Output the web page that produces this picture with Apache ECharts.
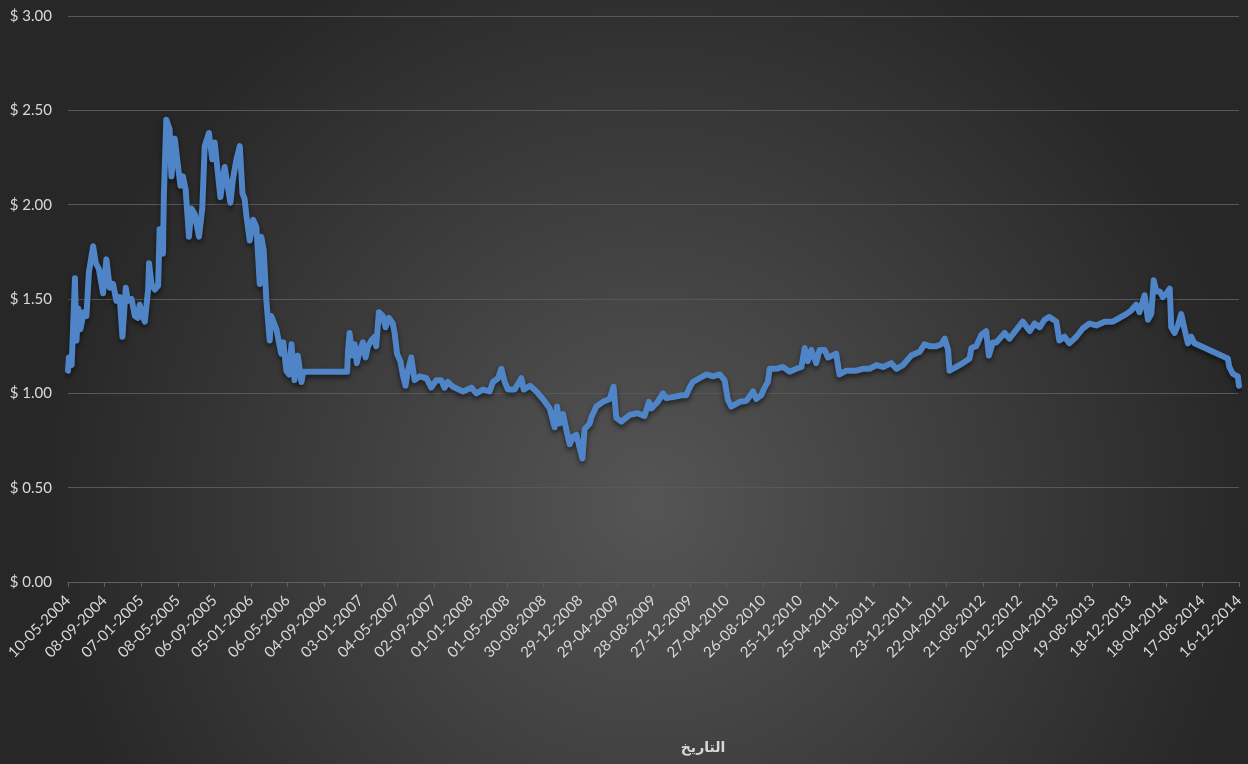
<!DOCTYPE html>
<html>
<head>
<meta charset="utf-8">
<script src="https://cdn.jsdelivr.net/npm/echarts@6/dist/echarts.min.js"></script>
<style>
  html, body { margin: 0; padding: 0; background: #2b2b2b; }
  #grafico { width: 1248px; height: 764px; }
</style>
</head>
<body>
<div id="grafico"></div>
<script>
// etiquetas del eje X (cada 121 días desde 10-05-2004)
const etiquetasFecha = ['10-05-2004','08-09-2004','07-01-2005','08-05-2005','06-09-2005','05-01-2006',
  '06-05-2006','04-09-2006','03-01-2007','04-05-2007','02-09-2007','01-01-2008','01-05-2008',
  '30-08-2008','29-12-2008','29-04-2009','28-08-2009','27-12-2009','27-04-2010','26-08-2010',
  '25-12-2010','25-04-2011','24-08-2011','23-12-2011','22-04-2012','21-08-2012','20-12-2012',
  '20-04-2013','19-08-2013','18-12-2013','18-04-2014','17-08-2014','16-12-2014'];
const PASO = 121;

// días desde 10-05-2004 y precio
const dias = [0,3,12,23,28,34,41,52,61,69,83,92,102,116,127,138,149,160,171,180,191,198,210,221,231,237,246,254,
  265,268,276,287,298,303,314,317,325,336,342,353,364,372,380,389,400,408,419,433,444,452,466,477,485,496,504,
  518,529,537,545,557,568,577,584,590,601,612,623,634,639,647,656,667,672,689,705,712,722,731,739,749,760,772,
  778,923,926,931,940,948,955,964,975,984,992,1003,1014,1019,1028,1041,1050,1061,1074,1080,1088,1099,1107,1116,
  1124,1135,1146,1163,1185,1201,1218,1234,1245,1256,1273,1306,1334,1350,1372,1394,1405,1422,1433,1444,1455,1477,
  1499,1507,1528,1549,1570,1593,1609,1617,1626,1637,1646,1659,1670,1681,1692,1701,1708,1725,1730,1747,1769,1791,
  1804,1813,1830,1857,1884,1906,1921,1929,1950,1967,1978,2000,2028,2044,2055,2066,2088,2111,2133,2155,2171,2182,
  2193,2221,2243,2265,2276,2292,2303,2314,2320,2342,2364,2386,2408,2425,2436,2446,2458,2474,2485,2502,2513,2540,
  2551,2574,2606,2628,2650,2673,2695,2722,2739,2761,2788,2816,2832,2849,2871,2888,2899,2910,2915,2937,2959,2981,
  2987,3003,3020,3036,3045,3058,3069,3097,3113,3135,3157,3180,3196,3213,3229,3245,3268,3278,3295,3311,3334,3356,
  3378,3400,3428,3455,3477,3499,3516,3532,3543,3560,3571,3582,3590,3599,3610,3620,3632,3643,3648,3659,3670,3681,
  3692,3703,3714,3725,3835,3840,3851,3868,3872];
const precios = [1.12,1.19,1.15,1.61,1.28,1.45,1.34,1.43,1.41,1.64,1.78,1.69,1.66,1.53,1.71,1.56,1.58,1.49,1.51,1.30,
  1.56,1.49,1.50,1.41,1.40,1.47,1.41,1.38,1.55,1.69,1.58,1.55,1.57,1.87,1.74,2.05,2.45,2.40,2.15,2.35,2.20,2.10,
  2.15,2.08,1.83,1.98,1.95,1.83,1.98,2.31,2.38,2.24,2.33,2.16,2.04,2.20,2.09,2.01,2.13,2.24,2.31,2.06,2.03,1.94,
  1.81,1.92,1.88,1.58,1.83,1.76,1.49,1.28,1.41,1.34,1.21,1.27,1.12,1.10,1.26,1.07,1.20,1.06,1.115,1.115,1.23,
  1.32,1.20,1.26,1.16,1.22,1.27,1.19,1.25,1.28,1.30,1.25,1.43,1.41,1.35,1.40,1.37,1.32,1.21,1.17,1.10,1.04,1.12,
  1.19,1.07,1.09,1.08,1.03,1.07,1.07,1.03,1.06,1.035,1.01,1.03,1.00,1.02,1.01,1.06,1.08,1.13,1.06,1.02,1.02,1.08,
  1.02,1.04,1.01,0.97,0.92,0.82,0.93,0.84,0.89,0.82,0.73,0.77,0.78,0.71,0.655,0.81,0.84,0.87,0.93,0.955,0.97,1.035,
  0.87,0.85,0.885,0.895,0.88,0.955,0.92,0.955,1.00,0.975,0.98,0.99,0.99,1.03,1.06,1.08,1.10,1.09,1.10,1.07,0.965,
  0.93,0.955,0.96,1.01,0.97,0.99,1.03,1.06,1.13,1.13,1.14,1.115,1.13,1.14,1.24,1.17,1.23,1.16,1.23,1.23,1.19,1.21,
  1.10,1.12,1.12,1.13,1.13,1.15,1.14,1.16,1.13,1.15,1.20,1.22,1.26,1.25,1.25,1.26,1.29,1.23,1.12,1.14,1.16,1.185,
  1.24,1.25,1.31,1.33,1.20,1.27,1.27,1.32,1.29,1.335,1.38,1.33,1.37,1.35,1.39,1.405,1.38,1.28,1.30,1.265,1.30,1.345,
  1.37,1.36,1.38,1.38,1.40,1.42,1.44,1.47,1.43,1.52,1.39,1.42,1.60,1.54,1.54,1.51,1.53,1.555,1.35,1.32,1.36,1.42,
  1.34,1.265,1.30,1.265,1.185,1.14,1.105,1.09,1.04];

const FUENTE = 'Lato, "Liberation Sans", sans-serif';
const TEXTO = '#d9d9d9';

const chart = echarts.init(document.getElementById('grafico'), null, { renderer: 'canvas' });
chart.setOption({
  animation: false,
  // fondo oscuro con foco más claro hacia el centro-abajo
  backgroundColor: {
    type: 'radial', x: 0.52, y: 0.66, r: 0.8,
    colorStops: [{ offset: 0, color: '#555555' }, { offset: 1, color: '#272727' }]
  },
  grid: { left: 68, right: 9, top: 16, bottom: 182 },
  xAxis: {
    type: 'value', min: 0, max: (etiquetasFecha.length - 1) * PASO, interval: PASO,
    axisLine: { show: true, lineStyle: { color: '#5f5f5f', width: 1 } },
    axisTick: { show: true, length: 5, lineStyle: { color: '#5f5f5f' } },
    splitLine: { show: false },
    axisLabel: {
      rotate: 45, margin: 16, color: TEXTO, fontSize: 15, fontFamily: FUENTE,
      formatter: (v) => etiquetasFecha[Math.round(v / PASO)] || ''
    }
  },
  yAxis: {
    type: 'value', min: 0, max: 3, interval: 0.5,
    axisLine: { show: false }, axisTick: { show: false },
    splitLine: { lineStyle: { color: '#585858', width: 1 } },
    axisLabel: {
      margin: 16, color: TEXTO, fontSize: 15, fontFamily: FUENTE,
      formatter: (v) => '$ ' + v.toFixed(2)
    }
  },
  graphic: [{
    type: 'text', x: 703, y: 748,
    style: { text: 'التاريخ', fill: TEXTO, font: 'bold 14px "DejaVu Sans", sans-serif',
             textAlign: 'center', textVerticalAlign: 'middle' }
  }],
  series: [{
    type: 'line', symbol: 'none',
    data: dias.map((d, i) => [d, precios[i]]),
    lineStyle: { color: '#4f85c7', width: 6, cap: 'round', join: 'round',
                 shadowColor: 'rgba(0,0,0,0.55)', shadowBlur: 5, shadowOffsetY: 3 }
  }]
});
</script>
</body>
</html>
